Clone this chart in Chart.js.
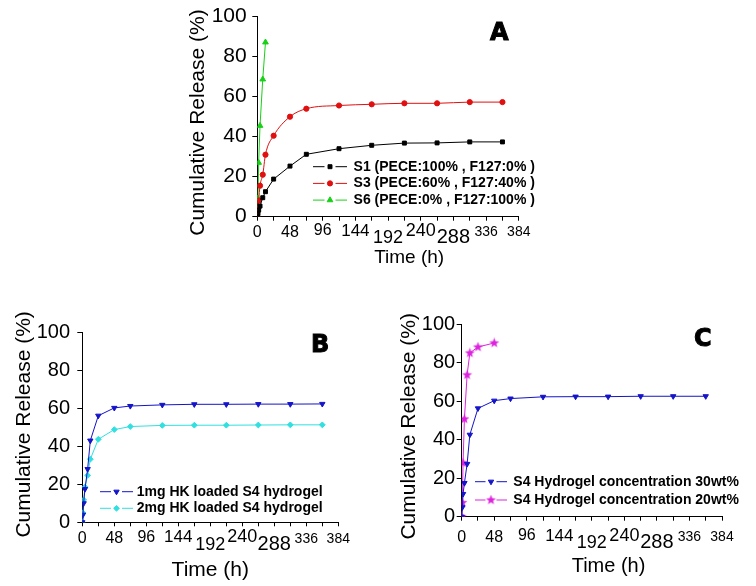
<!DOCTYPE html>
<html>
<head>
<meta charset="utf-8">
<script src="https://cdn.jsdelivr.net/npm/chart.js@4.4.1/dist/chart.umd.min.js"></script>
<style>
  html, body { margin: 0; padding: 0; background: #fff; }
  #page { position: relative; width: 756px; height: 586px; overflow: hidden; }
  canvas { position: absolute; }
  .tag { position: absolute; font: bold 24px "DejaVu Sans", sans-serif; line-height: 24px;
         color: #000; -webkit-text-stroke: 1px #000; }
</style>
</head>
<body>
<div id="page">
  <canvas id="chartA" width="370" height="280" style="left:180px;top:0px"></canvas>
  <canvas id="chartB" width="370" height="286" style="left:0px;top:300px"></canvas>
  <canvas id="chartC" width="376" height="286" style="left:380px;top:300px"></canvas>
  <div class="tag" style="left:490px;top:20px">A</div>
  <div class="tag" style="left:311px;top:332px">B</div>
  <div class="tag" style="left:694px;top:326px">C</div>
</div>
<script>
// sampling times (h)
var timesLong = [0, 1, 2, 4, 8, 12, 24, 48, 72, 120, 168, 216, 264, 312, 360];
var timesS6 = [0, 1, 2, 4, 8, 12];
var times20wt = [0, 1, 2, 4, 8, 12, 24, 48];

// panel A
var s1Values = [0, 1.5, 3.3, 5.3, 9.5, 12.5, 18.8, 25.3, 31.2, 34, 35.7, 36.8, 36.9, 37.4, 37.4];
var s3Values = [0, 4, 8, 15.5, 21, 31, 40.5, 50, 54, 55.6, 56.2, 56.7, 56.7, 57.3, 57.3];
var s6Values = [0, 9.2, 27, 45.5, 68.7, 87.2];

// panel B
var hk1mgValues = [0, 4, 10, 17.5, 28, 43, 56.1, 60.2, 61.2, 61.8, 62.1, 62.1, 62.2, 62.2, 62.3];
var hk2mgValues = [0, 5, 11.8, 18.6, 24.7, 33.2, 43.7, 48.8, 50.4, 51, 51.1, 51.1, 51.2, 51.3, 51.3];

// panel C
var conc30Values = [0, 4.9, 11.8, 17.5, 27.4, 42.6, 56.3, 60.3, 61.4, 62.3, 62.4, 62.4, 62.6, 62.6, 62.6];
var conc20Values = [0, 7.3, 28, 50.8, 73.7, 85.1, 88.2, 90.3];

// axis ticks
var xTickLabels = [0, 48, 96, 144, 192, 240, 288, 336, 384];
var yTickLabels = [0, 20, 40, 60, 80, 100];

// the time labels are set in uneven sizes / heights in the original figure
var xLabelSize = {0: 16, 48: 16, 96: 16, 144: 17, 192: 18, 240: 18, 288: 20, 336: 14, 384: 14};
var xLabelLine = {0: 1.2, 48: 1.2, 96: 1.01, 144: 0.98, 192: 1.73, 240: 0.9, 288: 1.51, 336: 1.37, 384: 1.37};

var FONT = '"Liberation Sans", Arial, sans-serif';
Chart.defaults.font.family = FONT;
Chart.defaults.color = '#000';

function pairs(xs, ys) {
    return xs.map(function (x, i) { return {x: x, y: ys[i]}; });
}

function starImage(color) {
    var c = document.createElement('canvas');
    c.width = 11; c.height = 11;
    var g = c.getContext('2d');
    g.fillStyle = color;
    g.beginPath();
    for (var i = 0; i < 10; i++) {
        var r = i % 2 === 0 ? 5.2 : 2.2;
        var a = -Math.PI / 2 + i * Math.PI / 5;
        g.lineTo(5.5 + r * Math.cos(a), 5.5 + r * Math.sin(a));
    }
    g.closePath();
    g.fill();
    return c;
}

function series(label, xs, ys, color, style, radius, rotation) {
    return {
        label: label,
        data: pairs(xs, ys),
        borderColor: color,
        backgroundColor: color,
        pointBackgroundColor: color,
        pointBorderColor: color,
        borderWidth: 1,
        pointStyle: style,
        pointRadius: radius,
        pointRotation: rotation || 0,
        pointBorderWidth: 1,
        tension: 0
    };
}

// legend drawn inside the plot area, Origin style: line - marker - line
var boxLegend = {
    id: 'boxLegend',
    afterDraw: function (chart, args, o) {
        var ctx = chart.ctx;
        ctx.save();
        chart.data.datasets.forEach(function (ds, i) {
            var y = o.y + i * o.row;
            var mid = o.x + o.len / 2;
            ctx.strokeStyle = ds.borderColor;
            ctx.lineWidth = 1;
            ctx.beginPath();
            ctx.moveTo(o.x, y);
            ctx.lineTo(mid - 5.5, y);
            ctx.moveTo(mid + 5.5, y);
            ctx.lineTo(o.x + o.len, y);
            ctx.stroke();
            ctx.fillStyle = ds.pointBackgroundColor;
            ctx.strokeStyle = ds.pointBorderColor;
            if (Chart.helpers && Chart.helpers.drawPoint) {
                Chart.helpers.drawPoint(ctx, {
                    pointStyle: ds.pointStyle, rotation: ds.pointRotation,
                    radius: ds.pointRadius, borderWidth: 1
                }, mid, y);
            }
            ctx.fillStyle = '#000';
            ctx.font = 'bold 14px ' + FONT;
            ctx.textAlign = 'left';
            ctx.textBaseline = 'middle';
            ctx.fillText(ds.label, o.x + o.len + o.gap, y);
        });
        ctx.restore();
    }
};

function makePanel(id, datasets, g) {
    var ctx = document.getElementById(id).getContext('2d');
    return new Chart(ctx, {
        type: 'line',
        data: {datasets: datasets},
        plugins: [boxLegend],
        options: {
            responsive: false,
            animation: false,
            events: [],
            layout: {padding: {left: 0, top: g.top, right: g.right, bottom: 0}},
            plugins: {
                legend: {display: false},
                tooltip: {enabled: false},
                boxLegend: g.legend
            },
            scales: {
                x: {
                    type: 'linear',
                    min: 0,
                    max: 384,
                    afterFit: function (s) { s.height = g.xHeight; s.paddingLeft = 0; s.paddingRight = 0; },
                    grid: {drawOnChartArea: false, tickLength: 4, tickColor: '#000'},
                    border: {color: '#000', width: 1},
                    ticks: {
                        stepSize: 24,
                        autoSkip: false,
                        maxRotation: 0,
                        padding: g.xPad,
                        color: '#000',
                        callback: function (v) { return xTickLabels.indexOf(v) >= 0 ? String(v) : ''; },
                        font: function (c) {
                            var v = c.tick ? c.tick.value : 0;
                            return {size: xLabelSize[v] || 16, lineHeight: xLabelLine[v] || 1.2};
                        }
                    },
                    title: {
                        display: true,
                        text: g.xTitle,
                        font: {size: g.xTitleSize},
                        padding: {top: 0, bottom: g.xTitlePad}
                    }
                },
                y: {
                    min: 0,
                    max: 100,
                    afterFit: function (s) { s.width = g.yWidth; s.paddingTop = 0; s.paddingBottom = 0; },
                    grid: {drawOnChartArea: false, tickLength: 5, tickColor: '#000'},
                    border: {color: '#000', width: 1},
                    ticks: {
                        stepSize: 10,
                        padding: g.yPad,
                        color: '#000',
                        font: {size: g.yTickSize},
                        callback: function (v) { return yTickLabels.indexOf(v) >= 0 ? String(v) : ''; }
                    },
                    title: {
                        display: true,
                        text: g.yTitle,
                        font: {size: g.yTitleSize},
                        padding: {top: g.yTitlePad, bottom: 0}
                    }
                }
            }
        }
    });
}

window.onload = function () {
    var blue = '#1414c8';

    var dsA = [
        series('S1 (PECE:100% , F127:0% )', timesLong, s1Values, '#000000', 'rect', 2.8),
        series('S3 (PECE:60% , F127:40% )', timesLong, s3Values, '#e01010', 'circle', 2.6),
        series('S6 (PECE:0% , F127:100% )', timesS6, s6Values, '#18d018', 'triangle', 3.3)
    ];
    dsA[1].cubicInterpolationMode = 'monotone';
    window.chartA = makePanel('chartA', dsA, {
        top: 16.7, right: 31.2, xHeight: 63.3, yWidth: 77.3,
        xPad: 2, yPad: 5.6, yTickSize: 21,
        xTitle: '        Time (h)', xTitleSize: 19, xTitlePad: 10.6,
        yTitle: 'Cumulative Release (%)  ', yTitleSize: 21, yTitlePad: 5.7,
        legend: {x: 133, y: 166.7, row: 16.7, len: 34, gap: 6.6}
    });

    var dsB = [
        series('1mg HK loaded S4 hydrogel', timesLong, hk1mgValues, blue, 'triangle', 3.1, 180),
        series('2mg HK loaded S4 hydrogel', timesLong, hk2mgValues, '#30e0e0', 'rectRot', 2.9)
    ];
    window.chartB = makePanel('chartB', dsB, {
        top: 32.3, right: 31.7, xHeight: 63.7, yWidth: 82.3,
        xPad: 3, yPad: 7.3, yTickSize: 20,
        xTitle: 'Time (h)', xTitleSize: 21, xTitlePad: 3.1,
        yTitle: ' Cumulative Release (%)', yTitleSize: 21, yTitlePad: 11.4,
        legend: {x: 100, y: 191.7, row: 16.6, len: 33, gap: 3.7}
    });

    var dsC = [
        series('S4 Hydrogel concentration 30wt%', timesLong, conc30Values, blue, 'triangle', 3.1, 180),
        series('S4 Hydrogel concentration 20wt%', times20wt, conc20Values, '#dd22dd', starImage('#dd22dd'), 3.5)
    ];
    window.chartC = makePanel('chartC', dsC, {
        top: 24.3, right: 34, xHeight: 69.3, yWidth: 81.7,
        xPad: 7, yPad: 1.5, yTickSize: 20,
        xTitle: '      Time (h)', xTitleSize: 20, xTitlePad: 7.3,
        yTitle: 'Cumulative Release (%)  ', yTitleSize: 21, yTitlePad: 16.4,
        legend: {x: 95, y: 181.7, row: 18.3, len: 32, gap: 6.3}
    });
};
</script>
</body>
</html>
